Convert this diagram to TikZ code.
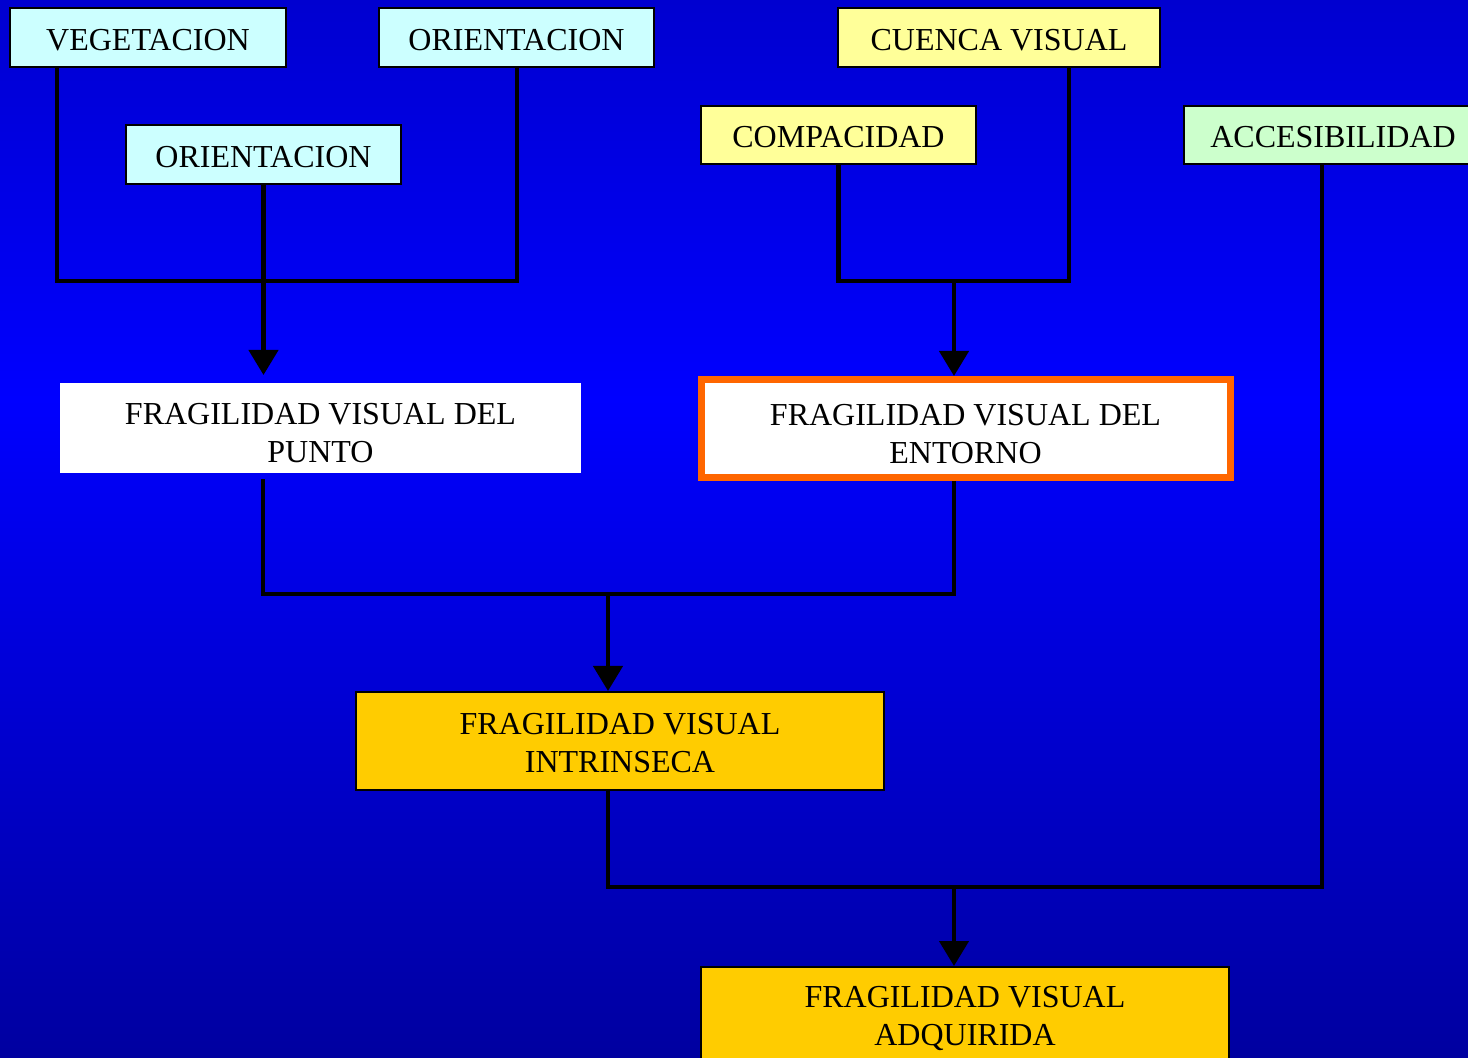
\documentclass[tikz,border=0pt]{standalone}
\usepackage{fontspec}
\setmainfont{Liberation Serif}
\usetikzlibrary{arrows.meta}
\definecolor{bgtop}{HTML}{0000D0}
\definecolor{bgmid}{HTML}{0000FF}
\definecolor{bgbot}{HTML}{0000A0}
\definecolor{cyanbox}{HTML}{CCFFFF}
\definecolor{yelbox}{HTML}{FFFF99}
\definecolor{grnbox}{HTML}{CCFFCC}
\definecolor{goldbox}{HTML}{FFCC00}
\definecolor{orangeb}{HTML}{FF6600}
\newcommand{\lowstrut}[1]{\rule{0pt}{#1}}
\begin{document}
\begin{tikzpicture}[x=0.5pt,y=-0.5pt,
  box/.style={draw=black,line width=1pt,inner sep=0pt,align=center,
    font=\fontsize{16}{19}\selectfont},
  conn/.style={draw=black,line width=2.2pt},
  arr/.style={conn,-{Triangle[width=14.5pt,length=12.5pt]}}]
\useasboundingbox (0,0) rectangle (1468,1058);
\shade[top color=bgtop,bottom color=bgmid] (0,0) rectangle (1468,400);
\shade[top color=bgmid,bottom color=bgbot] (0,399) rectangle (1468,1058);
\clip (0,0) rectangle (1468,1058);
% nodes
\node[box,fill=cyanbox,minimum width=138pt,minimum height=29.5pt] (veg) at (148,37.5) {\lowstrut{12.8pt}VEGETACION};
\node[box,fill=cyanbox,minimum width=137.5pt,minimum height=29.5pt] (or1) at (516.5,37.5) {\lowstrut{12.8pt}ORIENTACION};
\node[box,fill=cyanbox,minimum width=137.5pt,minimum height=29.5pt] (or2) at (263.5,154.5) {\lowstrut{12.8pt}ORIENTACION};
\node[box,fill=yelbox,minimum width=161pt,minimum height=29.5pt] (cuenca) at (999,37.5) {\lowstrut{12.8pt}CUENCA VISUAL};
\node[box,fill=yelbox,minimum width=137.5pt,minimum height=29pt] (comp) at (838.5,135) {\lowstrut{12.8pt}COMPACIDAD};
\node[box,fill=grnbox,minimum width=149pt,minimum height=29pt] (acc) at (1333,135) {\lowstrut{12.8pt}ACCESIBILIDAD};
\node[box,draw=none,fill=white,minimum width=260.5pt,minimum height=45pt] (punto) at (320.5,428) {\lowstrut{15.8pt}FRAGILIDAD VISUAL DEL\\PUNTO};
\node[box,draw=orangeb,line width=3.5pt,fill=white,minimum width=264.5pt,minimum height=49pt] (ent) at (965.5,428.5) {\lowstrut{15.8pt}FRAGILIDAD VISUAL DEL\\ENTORNO};
\node[box,fill=goldbox,minimum width=264pt,minimum height=49pt] (intr) at (620,741) {\lowstrut{12.8pt}FRAGILIDAD VISUAL\\INTRINSECA};
\node[box,fill=goldbox,minimum width=264pt,minimum height=49pt] (adq) at (965,1016) {\lowstrut{12.8pt}FRAGILIDAD VISUAL\\ADQUIRIDA};
% junctions
\coordinate (jA) at (57,281);
\coordinate (jB) at (517,281);
\coordinate (jD) at (1069,281);
\coordinate (jE) at (954,281);
\coordinate (jF) at (263,594);
\coordinate (jG) at (954,594);
\coordinate (jH) at (608,594);
\coordinate (jI) at (608,887);
\coordinate (jJ) at (1322,887);
\coordinate (jK) at (954,887);
% connectors
\draw[conn] (veg.south -| jA) -- (jA) -- (jB) -- (or1.south -| jB);
\draw[arr,shorten >=3.5pt] (or2.south) -- (or2.south |- punto.north);
\draw[conn] (comp.south) -- (comp.south |- jD) -- (jD) -- (cuenca.south -| jD);
\draw[arr] (jE) -- (jE |- ent.north);
\draw[conn,shorten <=2.5pt] (punto.south -| jF) -- (jF) -- (jG) -- (ent.south -| jG);
\draw[arr] (jH) -- (jH |- intr.north);
\draw[conn] (intr.south -| jI) -- (jI) -- (jJ) -- (acc.south -| jJ);
\draw[arr] (jK) -- (jK |- adq.north);
\end{tikzpicture}
\end{document}
